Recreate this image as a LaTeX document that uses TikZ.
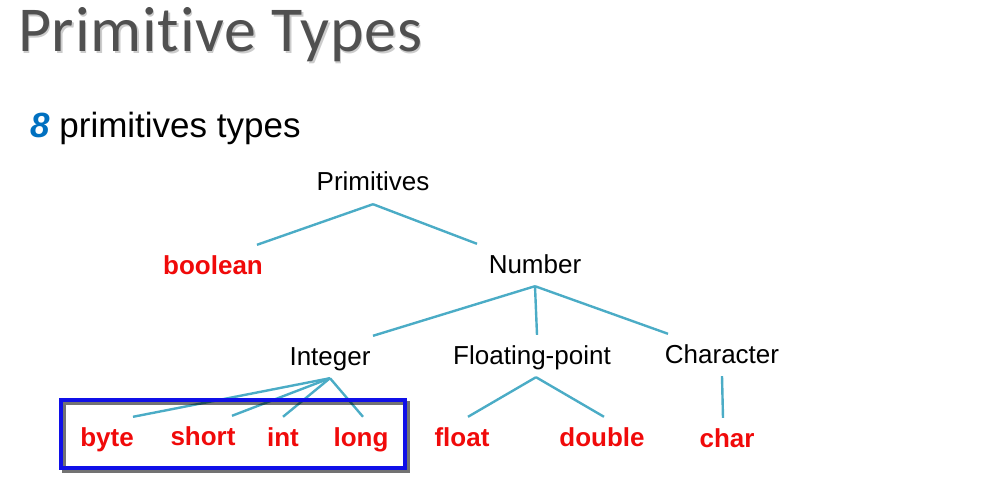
\documentclass[tikz,border=0pt]{standalone}
\usepackage{fontspec}
\setmainfont{Liberation Sans}
\newfontfamily\titlefont[Ligatures=NoCommon, LetterSpace=1.2]{Carlito}
\usepackage{tikz}
\definecolor{aqua}{HTML}{4BACC6}
\definecolor{keyred}{HTML}{F00A0A}
\definecolor{countblue}{HTML}{0070C0}
\definecolor{boxblue}{HTML}{1010E8}
\definecolor{titlegray}{HTML}{505050}

\begin{document}
\begin{tikzpicture}[x=1pt, y=-1pt]
        \tikzstyle{kind} = [anchor=base, inner sep=0pt, text height=29pt, text depth=13pt, font=\fontsize{26}{30}\selectfont]
        \tikzstyle{leaf} = [kind, text=keyred, font=\fontsize{26}{30}\selectfont\bfseries]
        \tikzstyle{link} = [draw=aqua, line width=2.4pt]
        \tikzstyle{numbox} = [draw=boxblue, line width=4pt]
        \useasboundingbox (0,0) rectangle (990,481);
        % heading
        \node[anchor=base west, inner sep=0pt, text=black!20, font=\fontsize{64}{70}\titlefont] (shadow) at (19.5,53.5) {Primitive Types};
        \node[anchor=base west, inner sep=0pt, text=titlegray, font=\fontsize{64}{70}\titlefont] (title) at (18,52) {Primitive Types};
        \node[anchor=base west, inner sep=0pt, font=\fontsize{35}{40}\selectfont] (count) at (30,138) {\textcolor{countblue}{\bfseries\itshape 8} primitives types};
        % tree
        \node[kind] (prim) at (373,191) {Primitives};
        \node[leaf] (bool) at (213,274) {boolean};
        \node[kind] (num) at (535,273) {Number};
        \node[kind] (intg) at (330,365) {Integer};
        \node[kind] (flt) at (532,364) {Floating-point};
        \node[kind] (chr) at (722,363) {Character};
        \node[leaf] (byte) at (107,446) {byte};
        \node[leaf] (short) at (203,445) {short};
        \node[leaf] (int) at (283,446) {int};
        \node[leaf] (long) at (361,446) {long};
        \node[leaf] (float) at (462,446) {float};
        \node[leaf] (double) at (602,446) {double};
        \node[leaf] (char) at (727,447) {char};
        \path[link]
        (prim.south) edge ([xshift=44pt]bool.north)
        (prim.south) edge ([xshift=-58pt]num.north)
        (num.south) edge ([xshift=43pt]intg.north)
        (num.south) edge ([xshift=5pt]flt.north)
        (num.south) edge ([xshift=-54pt]chr.north)
        (intg.south) edge ([xshift=26pt]byte.north)
        (intg.south) edge ([xshift=29pt]short.north)
        (intg.south) edge (int.north)
        (intg.south) edge ([xshift=2pt]long.north)
        ([xshift=4pt]flt.south) edge ([xshift=6pt]float.north)
        ([xshift=4pt]flt.south) edge ([xshift=2pt]double.north)
        (chr.south) edge ([xshift=-4pt]char.north);
        % box round the integer kinds
        \draw[numbox, draw=black, opacity=0.55] (63.5,402.5) rectangle (407.5,470.5);
        \draw[numbox] (61,400) rectangle (405,468);
    \end{tikzpicture}
\end{document}
